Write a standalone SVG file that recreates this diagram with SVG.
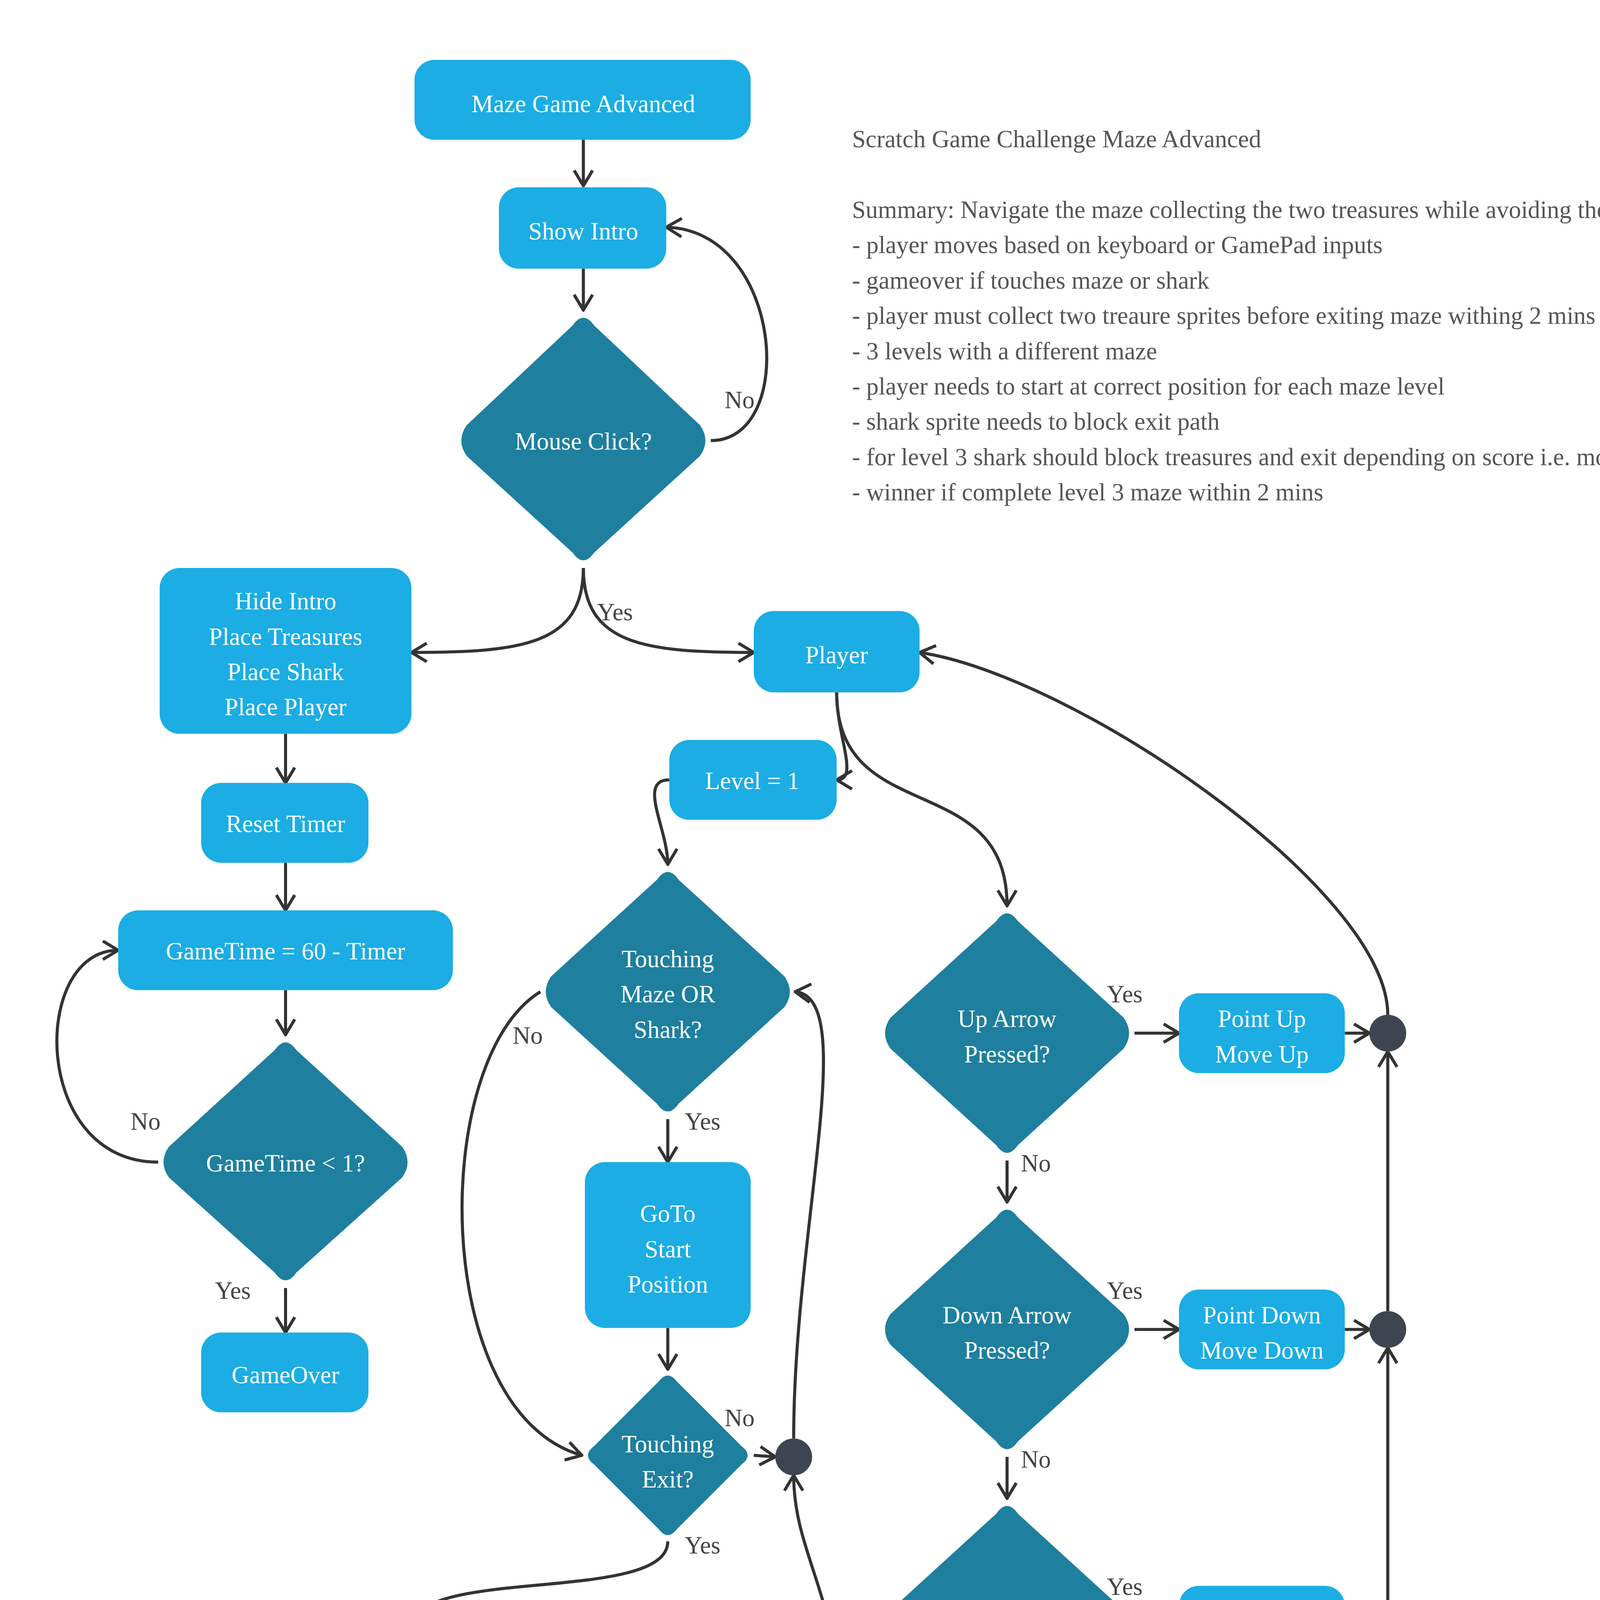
<svg xmlns="http://www.w3.org/2000/svg" width="6127" height="5643" viewBox="0 0 6127 5643">
<style>
.b{fill:#1BADE3}
.d{fill:#1E7F9E}
.c{fill:#3E4450}
.t{font-family:"Liberation Serif",serif;font-size:16px;fill:#fff;text-anchor:middle}
.l{font-family:"Liberation Serif",serif;font-size:16px;fill:#444}
.e{fill:none;stroke:#333;stroke-width:2;marker-end:url(#a)}
.s{font-family:"Liberation Serif",serif;font-size:16px;fill:#555}
</style>
<defs>
<marker id="a" viewBox="0 0 12 14" refX="11" refY="7" markerWidth="12" markerHeight="14" markerUnits="userSpaceOnUse" orient="auto"><path d="M1,1 L11,7 L1,13" fill="none" stroke="#333" stroke-width="2"/></marker>
</defs>
<rect width="6127" height="5643" fill="#fff"/>
<g transform="scale(3.93)">
<g id="connectors">
<path class="e" d="M380,91 L380,121"/>
<path class="e" d="M380,175 L380,202"/>
<path class="e" d="M463,287 C520,287 510,150 434,148"/>
<path class="e" d="M380,370 C380,420 340,425 268,425"/>
<path class="e" d="M380,370 C380,420 420,425 491,425"/>
<path class="e" d="M186,478 L186,510"/>
<path class="e" d="M186,562 L186,593"/>
<path class="e" d="M186,645 L186,674"/>
<path class="e" d="M103,757 C20,757 20,619 77,619"/>
<path class="e" d="M186,839 L186,868"/>
<path class="e" d="M545,451 C545,480 560,508 545,508"/>
<path class="e" d="M545,451 C545,540 656,500 656,590"/>
<path class="e" d="M436,508 C415,508 435,540 435,563"/>
<path class="e" d="M435,729 L435,757"/>
<path class="e" d="M352,646 C280,690 280,920 379,948"/>
<path class="e" d="M435,865 L435,892"/>
<path class="e" d="M491,948 L505,949"/>
<path class="e" d="M517,937 C517,800 560,650 518,646"/>
<path class="e" d="M435,1004 C435,1045 269,1020 269,1060"/>
<path class="e" d="M325,1116 L353,1116"/>
<path class="e" d="M269,1172 L269,1198"/>
<path class="e" d="M325,1254 L353,1254"/>
<path class="e" d="M269,1310 L269,1338"/>
<path class="e" d="M517,1250 C570,1250 545,1180 545,1127"/>
<path class="e" d="M545,1103 C545,1040 517,1010 517,961"/>
<path class="e" d="M739,673 L768,673"/>
<path class="e" d="M876,673 L892,673"/>
<path class="e" d="M656,756 L656,783"/>
<path class="e" d="M739,866 L768,866"/>
<path class="e" d="M876,866 L892,866"/>
<path class="e" d="M656,949 L656,976"/>
<path class="e" d="M739,1059 L768,1059"/>
<path class="e" d="M876,1059 L892,1059"/>
<path class="e" d="M656,1142 L656,1170"/>
<path class="e" d="M739,1253 L768,1253"/>
<path class="e" d="M876,1253 L892,1253"/>
<path class="e" d="M656,1336 C656,1400 900,1390 904,1265"/>
<path class="e" d="M904,1241 L904,1071"/>
<path class="e" d="M904,1047 L904,878"/>
<path class="e" d="M904,854 L904,685"/>
<path class="e" d="M904,661 C904,580 700,440 599,425"/>
<g class="l">
<text x="472" y="266">No</text><text x="389" y="404">Yes</text>
<text x="85" y="736">No</text><text x="140" y="846">Yes</text>
<text x="334" y="680">No</text><text x="446" y="736">Yes</text>
<text x="472" y="929">No</text><text x="446" y="1012">Yes</text>
<text x="307" y="1094">Yes</text><text x="279" y="1178">No</text>
<text x="307" y="1233">Yes</text><text x="279" y="1316">No</text>
<text x="721" y="653">Yes</text><text x="665" y="763">No</text>
<text x="721" y="846">Yes</text><text x="665" y="956">No</text>
<text x="721" y="1039">Yes</text><text x="665" y="1150">No</text>
<text x="721" y="1233">Yes</text><text x="665" y="1343">No</text>
</g>
</g>
<g id="start"><rect class="b" x="270" y="39" width="219" height="52" rx="13"/><text class="t" x="380" y="73">Maze Game Advanced</text></g>
<g id="showIntro"><rect class="b" x="325" y="122" width="109" height="53" rx="13"/><text class="t" x="380" y="156">Show Intro</text></g>
<g id="mouseClick"><path class="d" d="M373,212 Q380,202 387,212 L456,277 Q463,287 456,297 L387,360 Q380,370 373,360 L304,297 Q297,287 304,277 Z"/><text class="t" x="380" y="293">Mouse Click?</text></g>
<g id="hideIntro"><rect class="b" x="104" y="370" width="164" height="108" rx="13"/><text class="t" x="186" y="397">Hide Intro</text><text class="t" x="186" y="420">Place Treasures</text><text class="t" x="186" y="443">Place Shark</text><text class="t" x="186" y="466">Place Player</text></g>
<g id="player"><rect class="b" x="491" y="398" width="108" height="53" rx="13"/><text class="t" x="545" y="432">Player</text></g>
<g id="resetTimer"><rect class="b" x="131" y="510" width="109" height="52" rx="13"/><text class="t" x="186" y="542">Reset Timer</text></g>
<g id="gameTime"><rect class="b" x="77" y="593" width="218" height="52" rx="13"/><text class="t" x="186" y="625">GameTime = 60 - Timer</text></g>
<g id="gameTimeLt1"><path class="d" d="M179,684 Q186,674 193,684 L262,747 Q269,757 262,767 L193,829 Q186,839 179,829 L110,767 Q103,757 110,747 Z"/><text class="t" x="186" y="763">GameTime &lt; 1?</text></g>
<g id="gameOver"><rect class="b" x="131" y="868" width="109" height="52" rx="13"/><text class="t" x="186" y="901">GameOver</text></g>
<g id="level1"><rect class="b" x="436" y="482" width="109" height="52" rx="13"/><text class="t" x="490" y="514">Level = 1</text></g>
<g id="touchingMaze"><path class="d" d="M428,573 Q435,563 442,573 L511,636 Q518,646 511,656 L442,719 Q435,729 428,719 L359,656 Q352,646 359,636 Z"/><text class="t" x="435" y="630">Touching</text><text class="t" x="435" y="653">Maze OR</text><text class="t" x="435" y="676">Shark?</text></g>
<g id="gotoStart"><rect class="b" x="381" y="757" width="108" height="108" rx="13"/><text class="t" x="435" y="796">GoTo</text><text class="t" x="435" y="819">Start</text><text class="t" x="435" y="842">Position</text></g>
<g id="touchingExit"><path class="d" d="M429,900 Q435,892 441,900 L483,942 Q491,948 483,954 L441,996 Q435,1004 429,996 L387,954 Q379,948 387,942 Z"/><text class="t" x="435" y="946">Touching</text><text class="t" x="435" y="969">Exit?</text></g>
<g id="j1"><circle class="c" cx="517" cy="949" r="12"/></g>
<g id="level1q"><path class="d" d="M263,1068 Q269,1060 275,1068 L317,1110 Q325,1116 317,1122 L275,1164 Q269,1172 263,1164 L221,1122 Q213,1116 221,1110 Z"/><text class="t" x="269" y="1122">Level = 1?</text></g>
<g id="level2box"><rect class="b" x="353" y="1061" width="164" height="108" rx="13"/><text class="t" x="435" y="1088">Level =2</text><text class="t" x="435" y="1111">Change Maze</text><text class="t" x="435" y="1134">Place all Sprites</text><text class="t" x="435" y="1157">Reset Timer</text></g>
<g id="j2"><circle class="c" cx="545" cy="1115" r="12"/></g>
<g id="level2q"><path class="d" d="M263,1206 Q269,1198 275,1206 L317,1248 Q325,1254 317,1260 L275,1302 Q269,1310 263,1302 L221,1260 Q213,1254 221,1248 Z"/><text class="t" x="269" y="1260">Level = 2?</text></g>
<g id="level3box"><rect class="b" x="353" y="1199" width="164" height="108" rx="13"/><text class="t" x="435" y="1226">Level = 3</text><text class="t" x="435" y="1249">Change Maze</text><text class="t" x="435" y="1272">Place all Sprites</text><text class="t" x="435" y="1295">Reset Timer</text></g>
<g id="winner"><rect class="b" x="215" y="1338" width="108" height="52" rx="13"/><text class="t" x="269" y="1360">WINNER</text><text class="t" x="269" y="1383">GameOver</text></g>
<g id="upq"><path class="d" d="M649,600 Q656,590 663,600 L732,663 Q739,673 732,683 L663,746 Q656,756 649,746 L580,683 Q573,673 580,663 Z"/><text class="t" x="656" y="669">Up Arrow</text><text class="t" x="656" y="692">Pressed?</text></g>
<g id="pointUp"><rect class="b" x="768" y="647" width="108" height="52" rx="13"/><text class="t" x="822" y="669">Point Up</text><text class="t" x="822" y="692">Move Up</text></g>
<g id="j3"><circle class="c" cx="904" cy="673" r="12"/></g>
<g id="downq"><path class="d" d="M649,793 Q656,783 663,793 L732,856 Q739,866 732,876 L663,939 Q656,949 649,939 L580,876 Q573,866 580,856 Z"/><text class="t" x="656" y="862">Down Arrow</text><text class="t" x="656" y="885">Pressed?</text></g>
<g id="pointDown"><rect class="b" x="768" y="840" width="108" height="52" rx="13"/><text class="t" x="822" y="862">Point Down</text><text class="t" x="822" y="885">Move Down</text></g>
<g id="j4"><circle class="c" cx="904" cy="866" r="12"/></g>
<g id="leftq"><path class="d" d="M649,986 Q656,976 663,986 L732,1049 Q739,1059 732,1069 L663,1132 Q656,1142 649,1132 L580,1069 Q573,1059 580,1049 Z"/><text class="t" x="656" y="1055">Left Arrow</text><text class="t" x="656" y="1078">Pressed?</text></g>
<g id="pointLeft"><rect class="b" x="768" y="1033" width="108" height="52" rx="13"/><text class="t" x="822" y="1055">Point Left</text><text class="t" x="822" y="1078">Move Left</text></g>
<g id="j5"><circle class="c" cx="904" cy="1059" r="12"/></g>
<g id="rightq"><path class="d" d="M649,1180 Q656,1170 663,1180 L732,1243 Q739,1253 732,1263 L663,1326 Q656,1336 649,1326 L580,1263 Q573,1253 580,1243 Z"/><text class="t" x="656" y="1249">Right Arrow</text><text class="t" x="656" y="1272">Pressed?</text></g>
<g id="pointRight"><rect class="b" x="768" y="1227" width="108" height="52" rx="13"/><text class="t" x="822" y="1249">Point Right</text><text class="t" x="822" y="1272">Move Right</text></g>
<g id="j6"><circle class="c" cx="904" cy="1253" r="12"/></g>
<g id="summary" class="s">
<text x="555" y="96">Scratch Game Challenge Maze Advanced</text>
<text x="555" y="142">Summary: Navigate the maze collecting the two treasures while avoiding the shark within 2 mins for each of the 3 levels.</text>
<text x="555" y="165">- player moves based on keyboard or GamePad inputs</text>
<text x="555" y="188">- gameover if touches maze or shark</text>
<text x="555" y="211">- player must collect two treaure sprites before exiting maze withing 2 mins to go to next level</text>
<text x="555" y="234">- 3 levels with a different maze</text>
<text x="555" y="257">- player needs to start at correct position for each maze level</text>
<text x="555" y="280">- shark sprite needs to block exit path</text>
<text x="555" y="303">- for level 3 shark should block treasures and exit depending on score i.e. move position</text>
<text x="555" y="326">- winner if complete level 3 maze within 2 mins</text>
</g>
</g>
</svg>
